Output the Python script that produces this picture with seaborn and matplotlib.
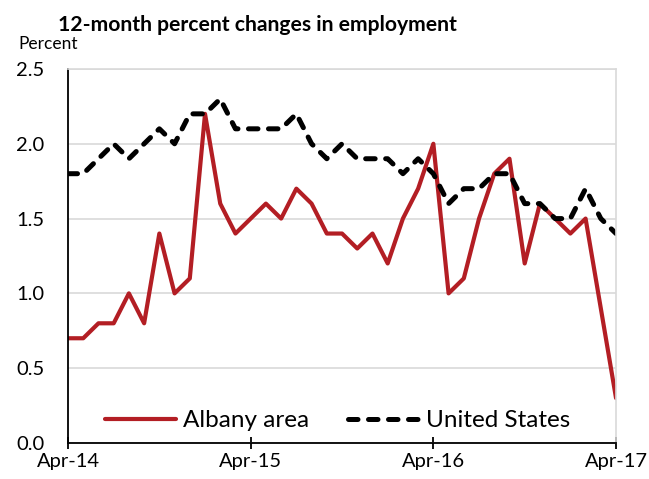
import matplotlib
matplotlib.use("Agg")
import matplotlib.pyplot as plt
import seaborn as sns
import pandas as pd

# Datos: cambio porcentual a 12 meses, Apr-14 a Apr-17
meses = pd.date_range("2014-04-01", "2017-04-01", freq="MS")
albany = [0.7, 0.7, 0.8, 0.8, 1.0, 0.8, 1.4, 1.0, 1.1,
          2.2, 1.6, 1.4, 1.5, 1.6, 1.5, 1.7, 1.6, 1.4, 1.4, 1.3, 1.4,
          1.2, 1.5, 1.7, 2.0, 1.0, 1.1, 1.5, 1.8, 1.9, 1.2, 1.6, 1.5,
          1.4, 1.5, 0.9, 0.3]
estados_unidos = [1.8, 1.8, 1.9, 2.0, 1.9, 2.0, 2.1, 2.0, 2.2,
                  2.2, 2.3, 2.1, 2.1, 2.1, 2.1, 2.2, 2.0, 1.9, 2.0, 1.9, 1.9,
                  1.9, 1.8, 1.9, 1.8, 1.6, 1.7, 1.7, 1.8, 1.8, 1.6, 1.6, 1.5,
                  1.5, 1.7, 1.5, 1.4]
etiquetas_x = ["Apr-14", "Apr-15", "Apr-16", "Apr-17"]
ticks_y = [0.0, 0.5, 1.0, 1.5, 2.0, 2.5]

df = pd.DataFrame({"Mes": range(len(meses)),
                   "Albany area": albany,
                   "United States": estados_unidos})

sns.set_style("white")
plt.rcParams["font.family"] = ["Lato", "DejaVu Sans"]
plt.rcParams["text.color"] = "black"
plt.rcParams["xtick.color"] = "black"
plt.rcParams["ytick.color"] = "black"

fig = plt.figure(figsize=(6.49, 4.79), dpi=100)
ax = fig.add_axes([0.1048, 0.0752, 0.8444, 0.7808])

sns.lineplot(data=df, x="Mes", y="Albany area", ax=ax, color="#B31E24",
             linewidth=3.0, label="Albany area", solid_capstyle="round")
sns.lineplot(data=df, x="Mes", y="United States", ax=ax, color="black",
             linewidth=3.6, label="United States", dashes=(1.9, 2.1),
             dash_capstyle="round")

ax.set_xlim(0, 36)
ax.set_ylim(0, 2.5)
ax.set_xticks([0, 12, 24, 36])
ax.set_xticklabels(etiquetas_x)
ax.set_yticks(ticks_y)
ax.set_yticklabels([f"{v:.1f}" for v in ticks_y])
ax.set_xlabel("")
ax.set_ylabel("")

ax.grid(axis="y", color="#d9d9d9", linewidth=1.2)
ax.set_axisbelow(True)
for lado in ["top", "right"]:
    ax.spines[lado].set_color("#d9d9d9")
    ax.spines[lado].set_linewidth(1.2)
for lado in ["left", "bottom"]:
    ax.spines[lado].set_color("black")
    ax.spines[lado].set_linewidth(1.3)

ax.tick_params(axis="x", direction="inout", length=9, width=1.3,
               colors="black", labelsize=14.5, pad=3, bottom=True)
ax.tick_params(axis="y", length=0, labelsize=14.5, pad=17, colors="black")

ax.legend(loc="center", bbox_to_anchor=(0.492, 0.06), ncol=2, frameon=False,
          fontsize=17.5, handlelength=2.9, handletextpad=0.3, columnspacing=1.6)

fig.text(0.0894, 0.935, "12-month percent changes in employment",
         fontsize=15.2, fontweight="bold", ha="left", va="baseline")
fig.text(0.028, 0.898, "Percent", fontsize=12.5, ha="left", va="baseline")

fig.savefig("out.png", dpi=100)
